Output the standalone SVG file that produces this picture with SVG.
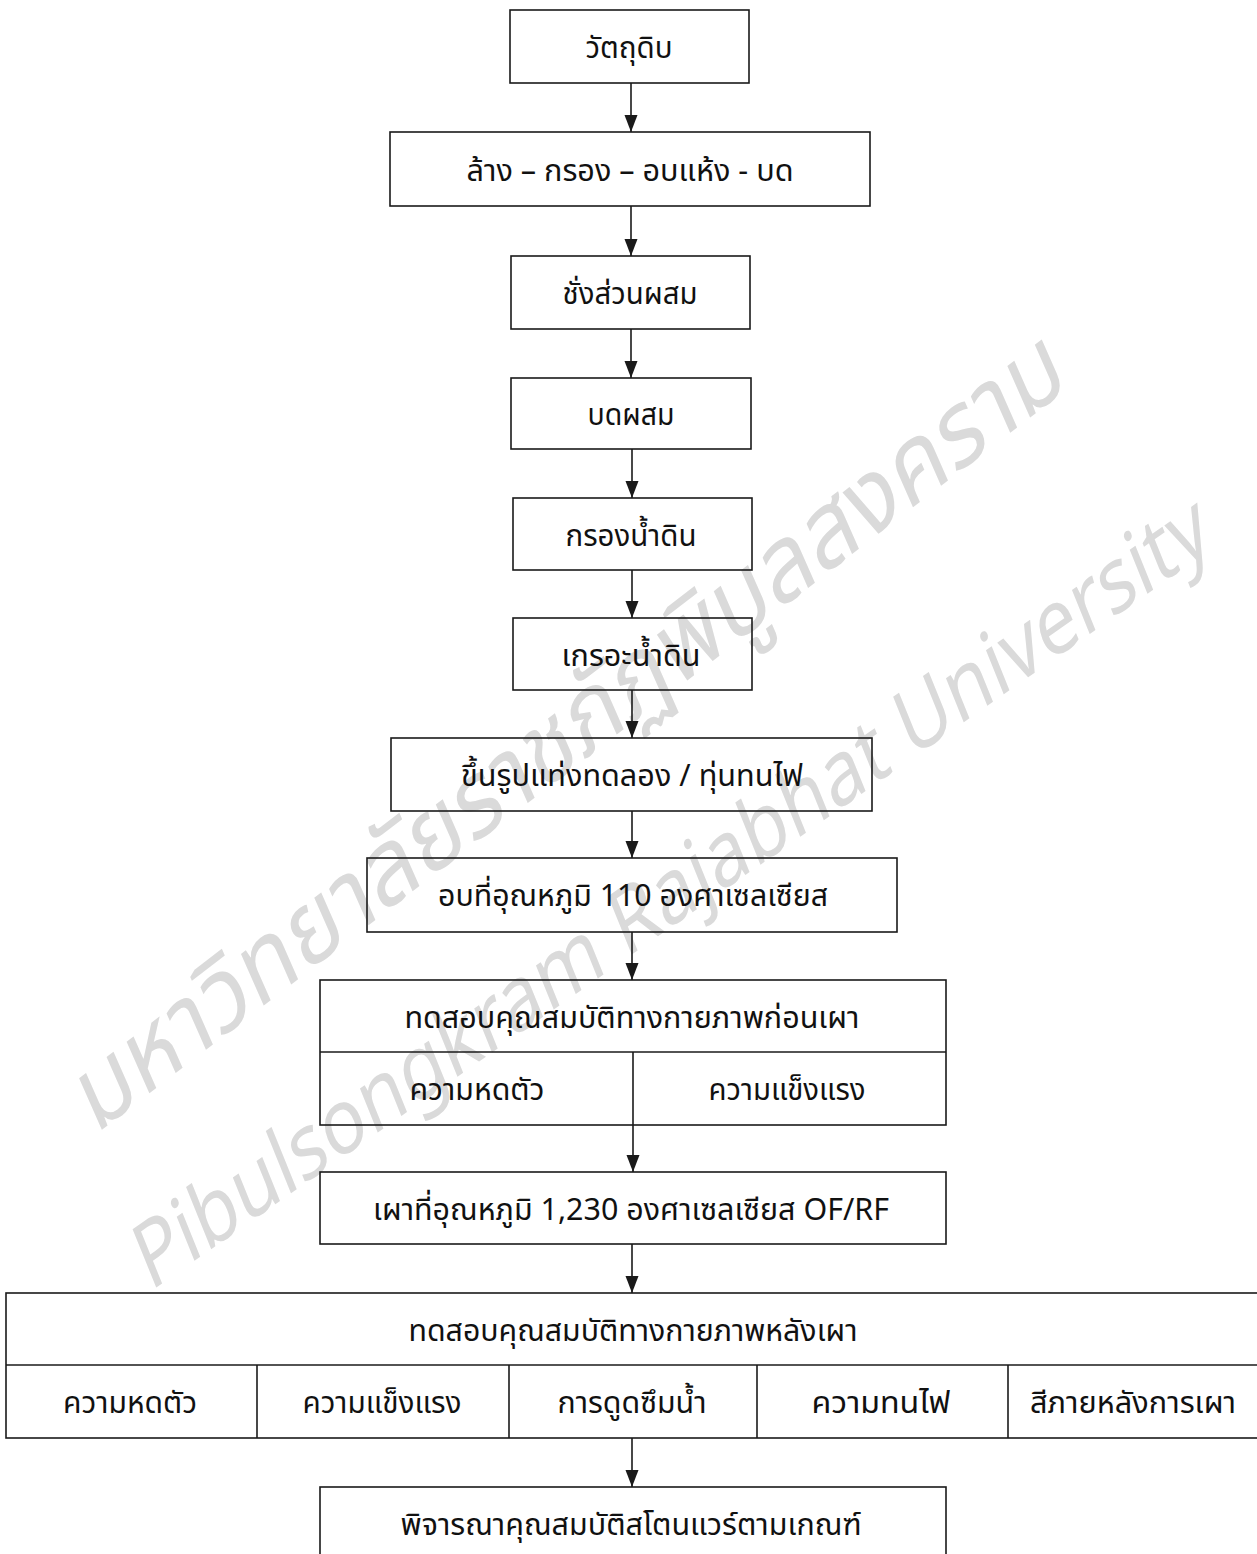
<svg xmlns="http://www.w3.org/2000/svg" width="1257" height="1554" viewBox="0 0 1257 1554">
<style>
.bx{fill:none;stroke:#1a1a1a;stroke-width:1.6}
.ln{fill:none;stroke:#1a1a1a;stroke-width:1.6}
.t{font-family:"Noto Sans Thai","Noto Sans","Liberation Sans",sans-serif;font-size:30px;fill:#111;text-anchor:middle}
.wm{font-family:"Noto Sans Thai","Liberation Serif",serif;font-style:italic;fill:#dadada}
</style>
<defs>
<marker id="ah" markerUnits="userSpaceOnUse" markerWidth="18" markerHeight="16" refX="17" refY="6.5" orient="auto">
<path d="M0,0 L17,6.5 L0,13 Z" fill="#1a1a1a"/>
</marker>
</defs>
<rect width="1257" height="1554" fill="#fff"/>
<g id="watermark">
<text class="wm" font-size="100" transform="translate(95,1135) rotate(-37.5)" textLength="1230" lengthAdjust="spacingAndGlyphs">มหาวิทยาลัยราชภัฏพิบูลสงคราม</text>
<text class="wm" font-size="86" transform="translate(150,1292) rotate(-35)" textLength="1300" lengthAdjust="spacingAndGlyphs">Pibulsongkram Rajabhat University</text>
</g>
<g id="connectors">
<line class="ln" x1="631" y1="83" x2="631" y2="132" marker-end="url(#ah)"/>
<line class="ln" x1="631" y1="206" x2="631" y2="256" marker-end="url(#ah)"/>
<line class="ln" x1="631" y1="329" x2="631" y2="378" marker-end="url(#ah)"/>
<line class="ln" x1="632" y1="449" x2="632" y2="498" marker-end="url(#ah)"/>
<line class="ln" x1="632" y1="570" x2="632" y2="618" marker-end="url(#ah)"/>
<line class="ln" x1="632" y1="690" x2="632" y2="738" marker-end="url(#ah)"/>
<line class="ln" x1="632" y1="811" x2="632" y2="858" marker-end="url(#ah)"/>
<line class="ln" x1="632" y1="932" x2="632" y2="980" marker-end="url(#ah)"/>
<line class="ln" x1="633" y1="1125" x2="633" y2="1172" marker-end="url(#ah)"/>
<line class="ln" x1="632" y1="1244" x2="632" y2="1293" marker-end="url(#ah)"/>
<line class="ln" x1="632" y1="1438" x2="632" y2="1487" marker-end="url(#ah)"/>
</g>
<g id="n1"><rect class="bx" x="510" y="10" width="239" height="73"/><text class="t" x="629" y="58" textLength="87" lengthAdjust="spacingAndGlyphs">วัตถุดิบ</text></g>
<g id="n2"><rect class="bx" x="390" y="132" width="480" height="74"/><text class="t" x="630" y="181" textLength="327" lengthAdjust="spacingAndGlyphs">ล้าง – กรอง – อบแห้ง - บด</text></g>
<g id="n3"><rect class="bx" x="511" y="256" width="239" height="73"/><text class="t" x="630" y="304" textLength="135" lengthAdjust="spacingAndGlyphs">ชั่งส่วนผสม</text></g>
<g id="n4"><rect class="bx" x="511" y="378" width="240" height="71"/><text class="t" x="631" y="425" textLength="87" lengthAdjust="spacingAndGlyphs">บดผสม</text></g>
<g id="n5"><rect class="bx" x="513" y="498" width="239" height="72"/><text class="t" x="631" y="546" textLength="131" lengthAdjust="spacingAndGlyphs">กรองน้ำดิน</text></g>
<g id="n6"><rect class="bx" x="513" y="618" width="239" height="72"/><text class="t" x="631" y="666" textLength="139" lengthAdjust="spacingAndGlyphs">เกรอะน้ำดิน</text></g>
<g id="n7"><rect class="bx" x="391" y="738" width="481" height="73"/><text class="t" x="632" y="786" textLength="342" lengthAdjust="spacingAndGlyphs">ขึ้นรูปแท่งทดลอง / ทุ่นทนไฟ</text></g>
<g id="n8"><rect class="bx" x="367" y="858" width="530" height="74"/><text class="t" x="633" y="906" textLength="390" lengthAdjust="spacingAndGlyphs">อบที่อุณหภูมิ 110 องศาเซลเซียส</text></g>
<g id="n9">
<rect class="bx" x="320" y="980" width="626" height="145"/>
<line class="ln" x1="320" y1="1052" x2="946" y2="1052"/>
<line class="ln" x1="633" y1="1052" x2="633" y2="1125"/>
<text class="t" x="632" y="1028" textLength="455" lengthAdjust="spacingAndGlyphs">ทดสอบคุณสมบัติทางกายภาพก่อนเผา</text>
<text class="t" x="477" y="1100" textLength="135" lengthAdjust="spacingAndGlyphs">ความหดตัว</text>
<text class="t" x="787" y="1100" textLength="157" lengthAdjust="spacingAndGlyphs">ความแข็งแรง</text>
</g>
<g id="n10"><rect class="bx" x="320" y="1172" width="626" height="72"/><text class="t" x="631" y="1220" textLength="516" lengthAdjust="spacingAndGlyphs">เผาที่อุณหภูมิ 1,230 องศาเซลเซียส OF/RF</text></g>
<g id="n11">
<rect class="bx" x="6" y="1293" width="1260" height="145"/>
<line class="ln" x1="6" y1="1365" x2="1257" y2="1365"/>
<line class="ln" x1="257" y1="1365" x2="257" y2="1438"/>
<line class="ln" x1="509" y1="1365" x2="509" y2="1438"/>
<line class="ln" x1="757" y1="1365" x2="757" y2="1438"/>
<line class="ln" x1="1008" y1="1365" x2="1008" y2="1438"/>
<text class="t" x="633" y="1341" textLength="449" lengthAdjust="spacingAndGlyphs">ทดสอบคุณสมบัติทางกายภาพหลังเผา</text>
<text class="t" x="130" y="1413" textLength="134" lengthAdjust="spacingAndGlyphs">ความหดตัว</text>
<text class="t" x="382" y="1413" textLength="159" lengthAdjust="spacingAndGlyphs">ความแข็งแรง</text>
<text class="t" x="632" y="1413" textLength="149" lengthAdjust="spacingAndGlyphs">การดูดซึมน้ำ</text>
<text class="t" x="881" y="1413" textLength="139" lengthAdjust="spacingAndGlyphs">ความทนไฟ</text>
<text class="t" x="1133" y="1413" textLength="206" lengthAdjust="spacingAndGlyphs">สีภายหลังการเผา</text>
</g>
<g id="n12"><rect class="bx" x="320" y="1487" width="626" height="80"/><text class="t" x="631" y="1535" textLength="461" lengthAdjust="spacingAndGlyphs">พิจารณาคุณสมบัติสโตนแวร์ตามเกณฑ์</text></g>
</svg>
